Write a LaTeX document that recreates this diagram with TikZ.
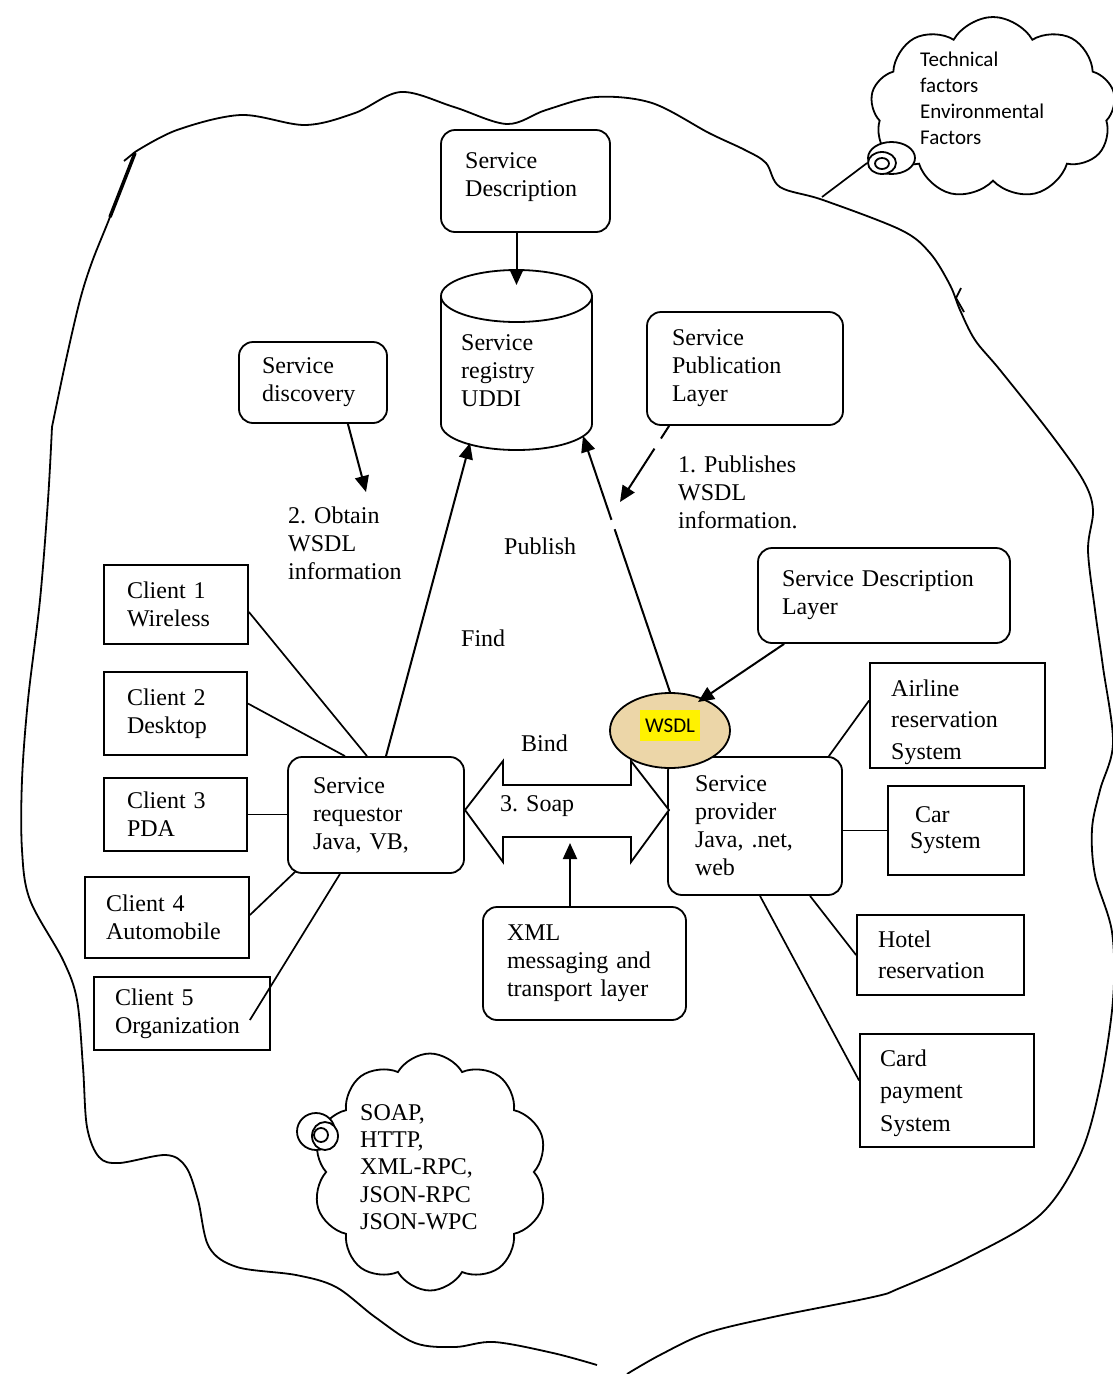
\documentclass[tikz,border=0pt]{standalone}
\usepackage{fontspec}
\setmainfont{Liberation Serif}
\newfontfamily\calib{Carlito}
\usetikzlibrary{shapes.geometric,shapes.symbols,arrows.meta,calc}
\definecolor{wsdlfill}{RGB}{236,214,168}
\newcommand\txt{\fontsize{24}{28}\selectfont}
\newcommand\txtr{\fontsize{24}{31.5}\selectfont}
\newcommand\txtc{\fontsize{24}{32.5}\selectfont}
\newcommand\ctxt{\calib\fontsize{21}{26}\selectfont}
\begin{document}
\begin{tikzpicture}[x=1pt,y=-1pt,
  lw/.style={line width=1.8pt},
  rbox/.style={draw, line width=1.8pt, rounded corners=14pt, align=left, inner ysep=0pt, font=\txt},
  sbox/.style={draw, line width=1.8pt, align=left, inner ysep=0pt, font=\txt},
  lbl/.style={align=left, inner sep=0pt, anchor=west, font=\txt},
  conn/.style={line width=1.7pt},
  arr/.style={line width=2pt, -{Triangle[length=16pt,width=14pt]}},
  puff/.style={cloud, draw, line width=1.8pt, cloud puff arc=120, cloud ignores aspect, inner sep=0pt},
  bub/.style={ellipse, draw, line width=1.8pt, fill=white, inner sep=0pt}
]
\useasboundingbox[fill=white] (0,0) rectangle (1113,1374);

% ---------- big blob outline ----------
\draw[lw] plot[smooth, tension=0.55] coordinates {
 (597,1365) (553,1353) (494,1342) (455,1347) (415,1343) (375,1317) (336,1287)
 (296,1275) (237,1267) (209,1247) (198,1200) (186,1167) (166,1155) (119,1163)
 (99,1157) (87,1127) (83,1067) (77,1000) (63,960) (30,900) (22,850) (22,780)
 (28,700) (40,600) (48,500) (52,427)};
\draw[lw] plot[smooth, tension=0.55] coordinates {
 (52,427) (66,360) (80,300) (92,262) (110,217) (135,152)};
\draw[line width=3.5pt] (110,217) -- (135,153);
\draw[lw] (135,152) -- (124,161);
\draw[lw] plot[smooth, tension=0.55] coordinates {
 (135,152) (177,130) (241,115) (305,125) (355,113) (401,92) (454,107) (507,124)
 (546,110) (596,97) (652,103) (709,133) (745,150) (766,163) (780,187) (823,200)
 (901,230) (930,253) (950,285) (960,310) (975,340) (1000,370) (1050,433)
 (1083,480) (1093,510) (1088,550) (1095,610) (1103,667) (1113,743) (1100,790)
 (1092,829) (1095,875) (1112,932) (1113,1000) (1100,1086) (1080,1155)
 (1040,1215) (967,1258) (900,1288) (873,1297) (773,1317) (707,1333) (660,1355)
 (627,1374)};
\draw[lw] (961,288) -- (956,298) -- (964,312);

% ---------- top right cloud ----------
\node[puff, cloud puffs=9, minimum width=245pt, minimum height=182pt] (tcloud) at (993,108) {};
\node[bub, minimum width=47pt, minimum height=32pt] (tb1) at (891.5,158) {};
\node[bub, minimum width=28pt, minimum height=22pt] (tb2) at (882,163) {};
\node[bub, minimum width=14pt, minimum height=11pt] (tb3) at (882,163.5) {};
\coordinate (blobtip) at (822,197);
\draw[conn] (blobtip) -- (tb2.west);
\node[lbl, font=\ctxt] (ttext) at (920,98) {Technical\\factors\\Environmental\\Factors};

% ---------- bottom cloud ----------
\node[puff, cloud puffs=10, minimum width=235pt, minimum height=237pt] (bcloud) at (430,1172) {};
\node[bub, minimum width=38pt, minimum height=37pt] (bb1) at (316,1131.5) {};
\node[bub, minimum width=26pt, minimum height=28pt] (bb2) at (325,1136) {};
\node[bub, minimum width=14pt, minimum height=14pt] (bb3) at (321,1135) {};
\node[lbl, font=\fontsize{24}{27.3}\selectfont] (btext) at (360,1167) {SOAP,\\HTTP,\\XML-RPC,\\JSON-RPC\\JSON-WPC};

% ---------- registry cylinder ----------
\draw[lw, fill=white] (441,296) -- (441,424)
  arc[start angle=180, end angle=360, x radius=75.5pt, y radius=26pt] -- (592,296);
\draw[lw] (516.5,296) ellipse [x radius=75.5pt, y radius=26pt];
\node[lbl] (reg) at (461,371) {Service\\registry\\UDDI};
\coordinate (regTop) at (516.5,285);
\coordinate (regBL) at (470,443);
\coordinate (regBR) at (583,436);

% ---------- boxes ----------
\node[rbox, minimum width=169pt, minimum height=102pt] (sd) at (525.5,181) {};
\node[lbl] (sdt) at (465,177) {Service\\Description};
\node[rbox, text width=146pt, inner xsep=25pt, minimum height=113pt] (pub) at (745,368.5) {Service\\Publication\\Layer};
\node[rbox, text width=102pt, inner xsep=23pt, minimum height=81pt] (disc) at (313,382.5) {Service\\discovery};
\node[rbox, text width=126pt, inner xsep=25pt, minimum height=116pt] (req) at (376,815) {Service\\requestor\\Java, VB,};
\node[rbox, text width=120pt, inner xsep=27pt, minimum height=138pt] (prov) at (755,826) {Service\\provider\\Java, .net,\\web};
\node[rbox, text width=204pt, inner xsep=24pt, minimum height=95pt] (sdl) at (884,595.5) {Service Description\\Layer};
\node[rbox, text width=155pt, inner xsep=24pt, minimum height=113pt] (xml) at (584.5,963.5) {XML\\messaging and\\transport layer};

\node[sbox, text width=98pt, inner xsep=23pt, minimum height=79pt] (c1) at (176,604.5) {Client 1\\Wireless};
\node[sbox, text width=97pt, inner xsep=23pt, minimum height=83pt] (c2) at (175.5,713.5) {Client 2\\Desktop};
\node[sbox, text width=97pt, inner xsep=23pt, minimum height=73pt] (c3) at (175.5,814.5) {Client 3\\PDA};
\node[sbox, text width=122pt, inner xsep=21pt, minimum height=81pt] (c4) at (167,917.5) {Client 4\\Automobile};
\node[sbox, text width=134pt, inner xsep=21pt, minimum height=73pt] (c5) at (182,1013.5) {Client 5\\Organization};

\node[sbox, minimum width=175pt, minimum height=105pt] (air) at (957.5,715.5) {};
\node[lbl, font=\txtr] (airt) at (891,722) {Airline\\reservation\\System};
\node[sbox, text width=92pt, inner xsep=22pt, minimum height=89pt] (car) at (956,830.5) {\hspace*{5pt}Car\\[-2pt]System};
\node[sbox, font=\txtr, text width=125pt, inner xsep=21pt, minimum height=80pt] (hotel) at (940.5,955) {Hotel\\reservation};
\node[sbox, minimum width=174pt, minimum height=113pt] (card) at (947,1090.5) {};
\node[lbl, font=\txtc] (cardt) at (880,1093) {Card\\payment\\System};

% ---------- soap double arrow ----------
\draw[lw, fill=white] (465,810) -- (503,761) -- (503,785) -- (631,785) -- (631,761)
  -- (669,810) -- (631,862) -- (631,837) -- (503,837) -- (503,862) -- cycle;
\coordinate (soapB) at (570,843);
\node[lbl] (soap) at (500,806) {3. Soap};

% ---------- WSDL ----------
\node[ellipse, draw, lw, fill=wsdlfill, minimum width=120pt, minimum height=75pt, inner sep=0pt] (wsdl) at (670,730.5) {};
\node[fill=yellow, font=\calib\fontsize{21}{25}\selectfont, inner xsep=5pt, inner ysep=0pt, minimum height=31pt] (wsdltxt) at (670,725.5) {WSDL};

% ---------- labels ----------
\node[lbl] (obtain) at (288,543) {2. Obtain\\WSDL\\information};
\node[lbl] (publishes) at (678,492) {1. Publishes\\WSDL\\information.};
\node[lbl] (publish) at (504,546) {Publish};
\node[lbl] (find) at (461,638) {Find};
\node[lbl] (bind) at (521,743) {Bind};

% ---------- arrows ----------
\draw[arr] (sd.south -| regTop) -- (regTop);
\draw[arr] ($(disc.south east)+(-40,0)$) -- (366,492);
\draw[arr, dash pattern=on 15pt off 12pt on 300pt] ($(pub.south west)+(23,0)$) -- (620,502);
\draw[arr, dash pattern=on 172pt off 10pt on 400pt] (wsdl.north) -- (regBR);
\draw[arr] ($(req.north)+(10,0)$) -- (regBL);
\draw[arr] ($(sdl.south west)+(27,0)$) -- (698,702);
\draw[arr] ($(xml.north)+(-14.5,0)$) -- (soapB);

% ---------- client connectors ----------
\draw[conn] ($(c1.east)+(0,7.5)$) -- ($(req.north)+(-9,0)$);
\draw[conn] ($(c2.east)+(0,-10)$) -- ($(req.north)+(-31,0)$);
\draw[conn] (c3.east) -- (c3.east -| req.west);
\draw[conn] ($(c4.east)+(0,-2.5)$) -- ($(req.south west)+(9,-3)$);
\draw[conn] ($(c5.east)+(-21,6.5)$) -- ($(req.south)+(-36,0)$);

% ---------- provider connectors ----------
\draw[conn] ($(prov.north east)+(-14,0)$) -- ($(air.west)+(0,-15)$);
\draw[conn] (car.west -| prov.east) -- (car.west);
\draw[conn] ($(prov.south)+(55,0)$) -- (hotel.west);
\draw[conn] ($(prov.south)+(5,0)$) -- ($(card.west)+(0,-10)$);
\end{tikzpicture}
\end{document}
